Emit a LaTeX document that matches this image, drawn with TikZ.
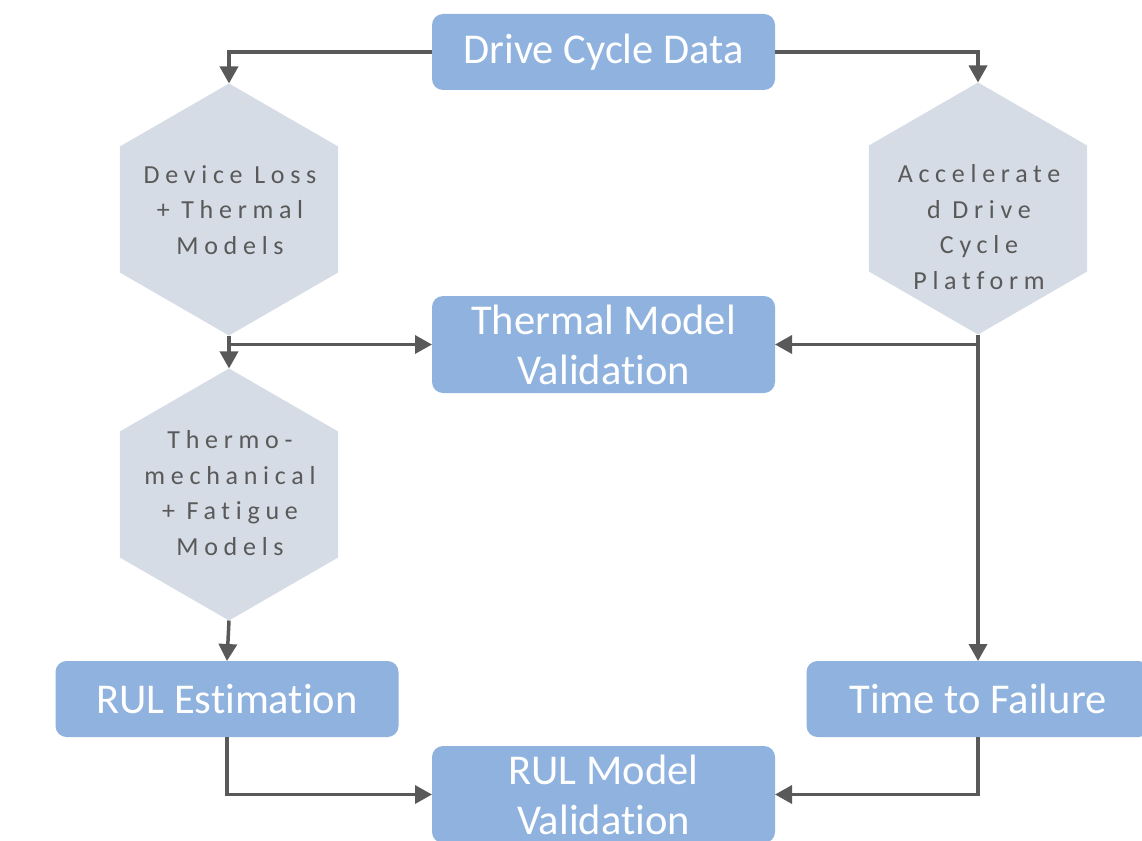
\documentclass[tikz,border=0pt]{standalone}
\usepackage{fontspec}
\setmainfont{Carlito}[Ligatures=NoCommon]
\newfontfamily\hexfont{Carlito}[LetterSpace=22,Ligatures=NoCommon]
\usetikzlibrary{shapes.geometric,arrows.meta}
\definecolor{boxblue}{RGB}{143,178,222}
\definecolor{hexgray}{RGB}{214,220,229}
\definecolor{linegray}{RGB}{89,89,89}
\definecolor{hexink}{RGB}{89,89,89}
\begin{document}
\begin{tikzpicture}[x=1pt,y=-1pt,
  procbox/.style={rectangle, rounded corners=11pt, fill=boxblue, text=white,
    minimum width=343pt, inner sep=0pt, outer sep=0pt,
    font=\fontsize{42.5}{50}\selectfont, align=center},
  hexa/.style={regular polygon, regular polygon sides=6, shape border rotate=30,
    minimum size=252pt, fill=hexgray, inner sep=0pt, outer sep=0pt},
  hexlabel/.style={text=hexink, font=\hexfont\fontsize{26}{35.5}\selectfont,
    align=center, inner sep=0pt},
  flow/.style={draw=linegray, line width=3.5pt,
    -{Triangle[length=17pt,width=18pt]}}]
\useasboundingbox (0,0) rectangle (1142,840);
\clip (0,0) rectangle (1142,840);

% process boxes
\node[procbox, minimum height=76pt] (dcd) at (603.5,52) {Drive Cycle Data};
\node[procbox, minimum height=97pt] (tmv) at (603.5,344.5) {Thermal Model\\Validation};
\node[procbox, minimum height=76pt] (rul) at (227,699) {RUL Estimation};
\node[procbox, minimum height=76pt] (ttf) at (978,699) {Time to Failure};
\node[procbox, minimum height=97pt] (rmv) at (603.5,794.5) {RUL Model\\Validation};

% model hexagons
\node[hexa] (dl) at (229,209.5) {};
\node[hexa] (adc) at (978,208.5) {};
\node[hexa] (tfm) at (229,494.5) {};
\node[hexlabel] (dltext) at (230,210) {Device Loss\\+ Thermal\\Models};
\node[hexlabel] (adctext) at (979,227) {Accelerate\\d Drive\\Cycle\\Platform};
\node[hexlabel] (tfmtext) at (230,493) {Thermo-\\mechanical\\+ Fatigue\\Models};

% connectors
\draw[flow] (dcd.west) -| (dl.north);
\draw[flow] (dcd.east) -| (adc.north);
\draw[flow] (dl.south) -- (tfm.north);
\draw[flow] (dl.south) |- (tmv.west);
\draw[flow] (adc.south) |- (tmv.east);
\draw[flow] (adc.south) -- (ttf.north);
\draw[flow] (tfm.south) -- (rul.north);
\draw[flow] (rul.south) |- (rmv.west);
\draw[flow] (ttf.south) |- (rmv.east);
\end{tikzpicture}
\end{document}
